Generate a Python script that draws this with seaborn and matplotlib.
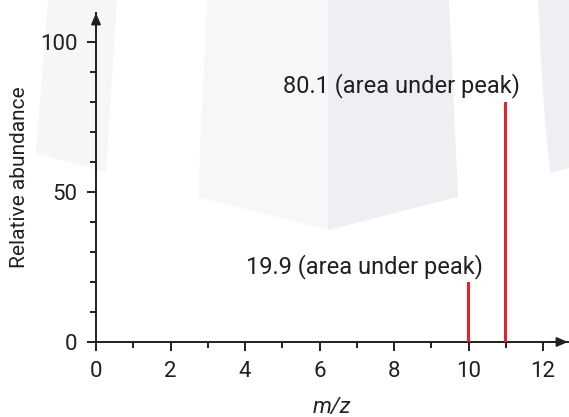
import matplotlib
matplotlib.use("Agg")
import matplotlib.pyplot as plt
from matplotlib.patches import Polygon
from matplotlib.ticker import MultipleLocator
import numpy as np
import pandas as pd
import seaborn as sns

# Mass spectrum of boron: two isotope peaks
mass_to_charge = [10, 11]
abundance = [19.9, 80.1]
peak_labels = ["19.9 (area under peak)", "80.1 (area under peak)"]
x_ticks = [0, 2, 4, 6, 8, 10, 12]
y_ticks = [0, 50, 100]

INK = "#231f20"
RED = "#e8202a"

sns.set_theme(style="ticks")
plt.rcParams["font.family"] = ["Roboto", "DejaVu Sans"]
plt.rcParams["text.color"] = INK
plt.rcParams["axes.labelcolor"] = INK

W, H = 569, 417
fig = plt.figure(figsize=(W / 100, H / 100), dpi=100)
fig.patch.set_facecolor("white")


def fig_poly(points, color):
    """Background panel given in pixel positions from the top-left corner."""
    pts = [(x / W, 1 - y / H) for x, y in points]
    fig.patches.append(Polygon(pts, closed=True, transform=fig.transFigure,
                               facecolor=color, edgecolor="none", zorder=-5))


# soft decorative panels behind the chart
fig_poly([(48, 0), (117, 0), (106, 172), (36, 153)], "#f5f6f8")
fig_poly([(207, 0), (328, 0), (328, 230), (198, 197)], "#f6f7f9")
fig_poly([(328, 0), (449, 0), (458, 197), (328, 230)], "#eeeff2")
fig_poly([(538, 0), (569, 0), (569, 168), (550, 173), (545, 120), (541, 60)], "#eeeff2")

ax = fig.add_axes([96 / W, 1 - 342 / H, (568 - 96) / W, (342 - 13) / H])
ax.set_facecolor("none")
ax.set_zorder(2)

df = pd.DataFrame({"mz": mass_to_charge, "abundance": abundance})
sns.barplot(data=df, x="mz", y="abundance", native_scale=True, width=0.075,
            color=RED, saturation=1, edgecolor="none", linewidth=0, ax=ax, zorder=3)

ax.set_xlim(0, 12.67)
ax.set_ylim(0, 109.7)

for x, y, lab in zip(mass_to_charge, abundance, peak_labels):
    ax.annotate(lab, xy=(x, y), xytext=(10.5, 6.5), textcoords="offset points",
                ha="right", va="baseline", fontsize=17, color=INK)

for side in ("top", "right"):
    ax.spines[side].set_visible(False)
for side in ("left", "bottom"):
    ax.spines[side].set_color(INK)
    ax.spines[side].set_linewidth(1.4)

ax.set_xticks(x_ticks)
ax.set_yticks(y_ticks)
ax.xaxis.set_minor_locator(MultipleLocator(1))
ax.yaxis.set_minor_locator(MultipleLocator(10))
ax.tick_params(which="major", direction="out", length=6.5, width=1.4,
               color=INK, labelcolor=INK, labelsize=16)
ax.tick_params(which="minor", direction="out", length=4.5, width=1.4, color=INK)
ax.tick_params(axis="x", which="major", pad=7)
ax.tick_params(axis="y", which="major", pad=7)

# arrowheads at the ends of both axes
arrow = dict(arrowstyle="-|>,head_length=0.65,head_width=0.28", color=INK,
             lw=1.4, shrinkA=0, shrinkB=0, mutation_scale=10)
ax.annotate("", xy=(1, 0), xycoords="axes fraction", xytext=(0.96, 0),
            arrowprops=arrow, annotation_clip=False)
ax.annotate("", xy=(0, 1), xycoords="axes fraction", xytext=(0, 0.95),
            arrowprops=arrow, annotation_clip=False)

ax.set_xlabel("m/z", fontsize=16, fontstyle="italic", labelpad=11)
ax.set_ylabel("Relative abundance", fontsize=15, labelpad=8)

fig.savefig("out.png", dpi=100)
